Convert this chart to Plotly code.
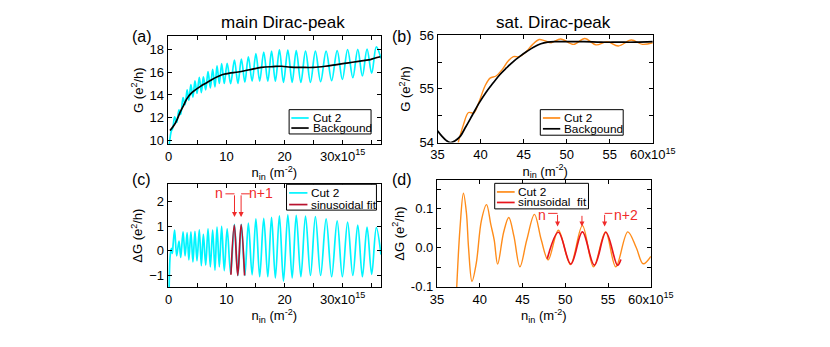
import plotly.graph_objects as go

W, H = 830, 347

# ---------------- data (n_in in units of 1e15 m^-2) ----------------
# main Dirac-peak, Cut 2 : extrema of the oscillating trace, shared n values for (a) and (c)
cut2_n = [0.1, 0.3, 0.5, 0.65, 0.8, 1.05, 1.4, 1.8, 2.1, 2.5,
          2.85, 3.2, 3.5, 3.85, 4.2, 4.55, 4.9, 5.3, 5.65, 6.0,
          6.4, 6.8, 7.2, 7.6, 8.0, 8.35, 8.75, 9.15, 9.6, 10.1,
          10.7, 11.35, 11.95, 12.55, 13.15, 13.75, 14.4, 15.05, 15.7, 16.4,
          17.1, 17.75, 18.4, 19.1, 19.8, 20.55, 21.3, 22.0, 22.8, 23.6,
          24.45, 25.3, 26.2, 27.15, 28.1, 29.05, 29.95, 30.85, 31.75, 32.6,
          33.4, 34.2, 35.0, 35.8, 36.6]
cut2_g = [9.6, 10.4, 10.9, 11.0, 11.3, 12.1, 11.6, 12.7, 12.3, 13.78,
          13.15, 14.44, 13.54, 14.9, 13.82, 15.22, 14.14, 15.54, 14.2, 15.57,
          14.44, 16.04, 14.61, 16.23, 14.7, 16.53, 15.0, 16.73, 15.01, 16.76,
          14.99, 17.04, 15.0, 17.13, 15.12, 17.31, 15.2, 17.6, 15.2, 17.73,
          15.2, 17.82, 15.2, 17.92, 15.1, 17.91, 15.1, 17.86, 15.1, 17.82,
          15.1, 17.81, 15.15, 17.81, 15.25, 17.87, 15.35, 17.96, 15.5, 17.97,
          15.65, 18.0, 15.9, 18.19, 17.18]
cut2_dg = [-1.6, -0.15, 0.1, -0.1, 0.3, 0.85, -0.2, 0.4, -0.26, 0.78,
           -0.2, 0.74, -0.36, 0.78, -0.45, 0.8, -0.4, 0.86, -0.6, 0.67,
           -0.58, 0.9, -0.65, 0.85, -0.78, 0.97, -0.65, 1.0, -0.8, 0.9,
           -0.92, 1.08, -1.0, 1.08, -1.0, 1.13, -0.97, 1.3, -1.05, 1.32,
           -1.05, 1.36, -1.1, 1.43, -1.23, 1.47, -1.1, 1.45, -1.05, 1.42,
           -1.0, 1.4, -1.0, 1.3, -1.05, 1.22, -1.05, 1.17, -1.0, 1.05,
           -1.05, 0.97, -0.95, 0.95, -0.15]

bg_a_n = [0.25, 1.0, 1.5, 2.0, 2.6, 3.2, 3.8, 4.5, 5.5, 6.5, 7.5, 8.5, 9.5, 10.5,
          12, 14, 16, 18, 19.5, 21, 23, 25, 27, 29, 31, 33, 34.5, 35.5, 36.5]
bg_a_g = [10.9, 11.4, 11.9, 12.5, 13.1, 13.7, 14.1, 14.4, 14.75, 15.05, 15.35, 15.6, 15.8, 15.9,
          16.0, 16.2, 16.4, 16.47, 16.5, 16.42, 16.4, 16.4, 16.5, 16.65, 16.8, 16.95, 17.05, 17.2, 17.33]

fit_c_n = [10.75, 11.33, 11.92, 12.5, 13.1]
fit_c_dg = [-0.97, 1.05, -1.0, 1.07, -1.0]

# sat. Dirac-peak
cut2_b_n = [37.4, 38.0, 38.6, 39.2, 39.8, 40.5, 41.1, 41.8, 42.5, 43.2, 43.8, 44.5, 45.2,
            46.0, 46.8, 47.4, 48.2, 49.3, 50.8, 52.1, 53.4, 54.7, 56.0, 57.5, 58.8, 60.0]
cut2_b_g = [54.0, 54.33, 54.56, 54.55, 54.75, 55.05, 55.2, 55.24, 55.36, 55.52, 55.6, 55.6, 55.68,
            55.82, 55.92, 55.9, 55.86, 55.93, 55.83, 55.94, 55.82, 55.88, 55.8, 55.91, 55.83, 55.86]
bg_b_n = [35.0, 35.5, 36.0, 36.5, 37.0, 37.6, 38.3, 39.0, 39.8, 40.6, 41.4, 42.2, 43.0,
          43.8, 44.6, 45.4, 46.2, 47.0, 47.8, 48.6, 50, 52, 54, 56, 58, 60]
bg_b_g = [54.22, 54.12, 54.04, 54.0, 54.03, 54.11, 54.3, 54.5, 54.73, 54.93, 55.1, 55.26, 55.39,
          55.51, 55.61, 55.7, 55.78, 55.84, 55.87, 55.88, 55.88, 55.88, 55.87, 55.87, 55.87, 55.88]

cut2_d_n = [37.3, 37.7, 38.1, 38.45, 38.7, 39.1, 39.6, 40.2, 40.8, 41.3, 41.7, 42.1, 42.8, 43.4, 44.0,
            44.7, 45.5, 46.4, 47.2, 48.0, 49.2, 50.6, 52.0, 53.3, 54.7, 55.9, 57.3, 58.3, 59.1, 60.0]
cut2_d_dg = [-0.11, 0.05, 0.14, 0.09, 0.0, -0.086, -0.04, 0.07, 0.111, 0.06, 0.02, -0.042, 0.04, 0.078, 0.03,
             -0.049, 0.02, 0.086, 0.02, -0.031, 0.045, -0.043, 0.057, -0.049, 0.041, -0.049, 0.041, 0.0, -0.041, -0.022]
fit_d_n = [47.9, 49.2, 50.65, 52.0, 53.4, 54.75, 56.1, 56.5]
fit_d_dg = [-0.028, 0.04, -0.042, 0.041, -0.045, 0.04, -0.045, -0.03]

CYAN, ORANGE, RED_C, RED_D, ANN = "#00F5FF", "#FF8C1A", "#B8122E", "#E8141C", "#F02A2A"
FONT = "Liberation Sans"


def px(x):
    return x / W


def py(y):
    return 1 - y / H


fig = go.Figure()

def line(x, y, color, xa, ya, width=1.7):
    fig.add_trace(go.Scatter(x=x, y=y, mode="lines", xaxis=xa, yaxis=ya, showlegend=False,
                             line=dict(color=color, width=width, shape="spline", smoothing=1.0)))

line(cut2_n, cut2_g, CYAN, "x", "y")
line(bg_a_n, bg_a_g, "black", "x", "y")
line(cut2_b_n, cut2_b_g, ORANGE, "x2", "y2", 1.4)
line(bg_b_n, bg_b_g, "black", "x2", "y2")
line(cut2_n, cut2_dg, CYAN, "x3", "y3")
line(fit_c_n, fit_c_dg, RED_C, "x3", "y3")
line(cut2_d_n, cut2_d_dg, ORANGE, "x4", "y4", 1.4)
line(fit_d_n, fit_d_dg, RED_D, "x4", "y4")

axis = dict(showline=True, linecolor="black", linewidth=1, mirror="ticks", ticks="inside",
            ticklen=4, tickcolor="black", showgrid=False, zeroline=False,
            tickfont=dict(size=13, color="black", family=FONT),
            title_font=dict(size=13, color="black", family=FONT))
n_title = "n<sub>in</sub> (m<sup>-2</sup>)"
xa_ticks = dict(tickmode="array", tickvals=[0, 10, 20, 30],
                ticktext=["0", "10", "20", "30x10<sup>15</sup>"],
                minor=dict(dtick=5, tick0=0, ticks="inside", ticklen=4, tickcolor="black"))
xb_ticks = dict(tickmode="array", tickvals=[35, 40, 45, 50, 55, 60],
                ticktext=["35", "40", "45", "50", "55", "60x10<sup>15</sup>"])

fig.update_layout(
    width=W, height=H, margin=dict(l=0, r=0, t=0, b=0),
    paper_bgcolor="white", plot_bgcolor="white", showlegend=False,
    font=dict(family=FONT, color="black"),
    xaxis=dict(axis, **xa_ticks, domain=[px(166.7), px(388)], range=[-0.15, 36.6], anchor="y",
               title=dict(text=n_title, standoff=2)),
    yaxis=dict(axis, domain=[py(143.3), py(30.5)], range=[9.72, 19.12], anchor="x",
               dtick=2, title=dict(text="G (e<sup>2</sup>/h)", standoff=3)),
    xaxis2=dict(axis, **xb_ticks, domain=[px(446.7), px(670)], range=[35, 60], anchor="y2",
                title=dict(text=n_title, standoff=2)),
    yaxis2=dict(axis, domain=[py(141.7), py(29.5)], range=[54, 56], anchor="x2",
                tickvals=[54, 55, 56], minor=dict(dtick=0.5, ticks="inside", ticklen=4, tickcolor="black"),
                title=dict(text="G (e<sup>2</sup>/h)", standoff=5)),
    xaxis3=dict(axis, **xa_ticks, domain=[px(166.7), px(388)], range=[-0.15, 36.6], anchor="y3",
                title=dict(text=n_title, standoff=2)),
    yaxis3=dict(axis, domain=[py(293), py(185)], range=[-1.48, 2.72], anchor="x3",
                tickvals=[-1, 0, 1, 2], title=dict(text="ΔG (e<sup>2</sup>/h)", standoff=3)),
    xaxis4=dict(axis, **xb_ticks, domain=[px(446), px(668)], range=[35, 60], anchor="y4",
                title=dict(text=n_title, standoff=2)),
    yaxis4=dict(axis, domain=[py(293), py(180.7)], range=[-0.1015, 0.1745], anchor="x4",
                tickvals=[-0.1, 0.0, 0.1], ticktext=["-0.1", "0.0", "0.1"],
                minor=dict(dtick=0.05, tick0=0, ticks="inside", ticklen=4, tickcolor="black"),
                title=dict(text="ΔG (e<sup>2</sup>/h)", standoff=3)),
)

# titles and panel labels
for text, x, y, size in [("main Dirac-peak", 286, 16, 17), ("sat. Dirac-peak", 567, 16, 17),
                         ("(a)", 140, 31, 16), ("(b)", 410, 31, 16),
                         ("(c)", 140, 180, 16), ("(d)", 410, 180, 16)]:
    fig.add_annotation(text=text, x=px(x), y=py(y), xref="paper", yref="paper", showarrow=False,
                       xanchor="center", yanchor="middle", font=dict(size=size, color="black", family=FONT))


# hand drawn legend boxes
def legend_box(x0, y0, x1, y1, lx0, lx1, tx, items):
    fig.add_shape(type="rect", xref="paper", yref="paper", x0=px(x0), x1=px(x1), y0=py(y1), y1=py(y0),
                  line=dict(color="black", width=1), fillcolor="white", layer="above")
    for color, label, yy in items:
        fig.add_shape(type="line", xref="paper", yref="paper", x0=px(lx0), x1=px(lx1), y0=py(yy), y1=py(yy),
                      line=dict(color=color, width=1.7), layer="above")
        fig.add_annotation(text=label, x=px(tx), y=py(yy), xref="paper", yref="paper", showarrow=False,
                           xanchor="left", yanchor="middle", borderpad=0,
                           font=dict(size=11.8, color="black", family=FONT))


legend_box(292.7, 107.3, 377.7, 132.7, 295, 313, 316.5, [(CYAN, "Cut 2", 116), ("black", "Backgound", 126.5)])
legend_box(553.3, 107.3, 639.3, 134, 556, 574, 577, [(ORANGE, "Cut 2", 116), ("black", "Backgound", 127.3)])
legend_box(290, 185.3, 383.3, 212.3, 292.7, 311.7, 314.5, [(CYAN, "Cut 2", 194.3), (RED_C, "sinusoidal fit", 206.5)])
legend_box(506, 184.3, 603.3, 211, 508.3, 526.7, 529, [(ORANGE, "Cut 2", 193.3), (RED_D, "sinusoidal\u00a0 fit", 204.3)])


# n / n+1 / n+2 markers
def marker(xa, ya, x_arrow, y_top, y_tip, hook_to=None):
    if hook_to is not None:
        fig.add_shape(type="line", xref=xa, yref=ya, x0=hook_to, x1=x_arrow, y0=y_top, y1=y_top,
                      line=dict(color=ANN, width=1))
    fig.add_annotation(x=x_arrow, y=y_tip, ax=x_arrow, ay=y_top, xref=xa, yref=ya, axref=xa, ayref=ya,
                       text="", showarrow=True, arrowhead=2, arrowsize=1, arrowwidth=1, arrowcolor=ANN)


def label(xa, ya, text, x, y):
    fig.add_annotation(text=text, x=x, y=y, xref=xa, yref=ya, showarrow=False, borderpad=0,
                       font=dict(size=14, color=ANN, family=FONT))


marker("x3", "y3", 11.36, 2.32, 1.38, hook_to=9.8)
marker("x3", "y3", 12.5, 2.32, 1.38, hook_to=14.0)
label("x3", "y3", "n", 8.7, 2.36)
label("x3", "y3", "n+1", 15.9, 2.36)

marker("x4", "y4", 49.1, 0.0885, 0.055, hook_to=48.0)
marker("x4", "y4", 51.95, 0.086, 0.055)
marker("x4", "y4", 54.6, 0.0885, 0.055, hook_to=55.5)
label("x4", "y4", "n", 47.3, 0.084)
label("x4", "y4", "n+2", 57.1, 0.084)

# the page body has a default 8px margin; remove it so the figure sits at the window origin
fig.write_html("out.html", config={"displayModeBar": False},
               post_script="document.body.style.margin='0';document.body.style.overflow='hidden';")
